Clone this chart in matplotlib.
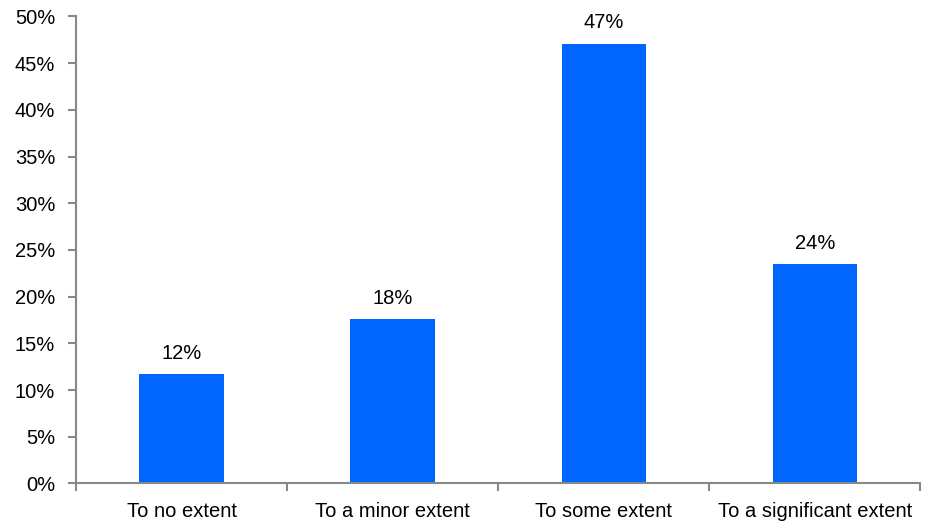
import matplotlib
matplotlib.use("Agg")
import matplotlib.pyplot as plt

categories = ["To no extent", "To a minor extent", "To some extent", "To a significant extent"]
values = [11.7, 17.6, 47.1, 23.5]
y_ticks = [0, 5, 10, 15, 20, 25, 30, 35, 40, 45, 50]

plt.rcParams["font.family"] = ["Liberation Sans", "DejaVu Sans"]
FS = 14.5

fig = plt.figure(figsize=(9.28, 5.22), dpi=100)
ax = fig.add_axes([0.0819, 0.0738, 0.910, 0.8946])

x = list(range(len(categories)))
bars = ax.bar(x, values, width=0.4, color="#0066FF", zorder=2)

for xi, v in zip(x, values):
    ax.annotate(f"{v:.0f}%", (xi, v), xytext=(0, 8), textcoords="offset points",
                ha="center", va="bottom", fontsize=FS, color="black")

ax.set_xlim(-0.5, len(categories) - 0.5)
ax.set_ylim(0, 50)
ax.set_yticks(y_ticks)
ax.set_yticklabels([f"{t}%" for t in y_ticks], fontsize=FS)

# category boundaries as ticks, names centred between them
ax.set_xticks([i - 0.5 for i in range(len(categories) + 1)])
ax.set_xticklabels([])
ax.set_xticks(x, minor=True)
ax.set_xticklabels(categories, minor=True, fontsize=FS)
ax.tick_params(axis="x", which="minor", length=0, pad=13)
ax.tick_params(axis="x", which="major", length=6, direction="out", color="#888888", width=1.5)
ax.tick_params(axis="y", length=6, direction="out", color="#888888", width=1.5, pad=9)

for side in ("top", "right"):
    ax.spines[side].set_visible(False)
for side in ("left", "bottom"):
    ax.spines[side].set_color("#888888")
    ax.spines[side].set_linewidth(1.5)

fig.savefig("out.png", dpi=100)
